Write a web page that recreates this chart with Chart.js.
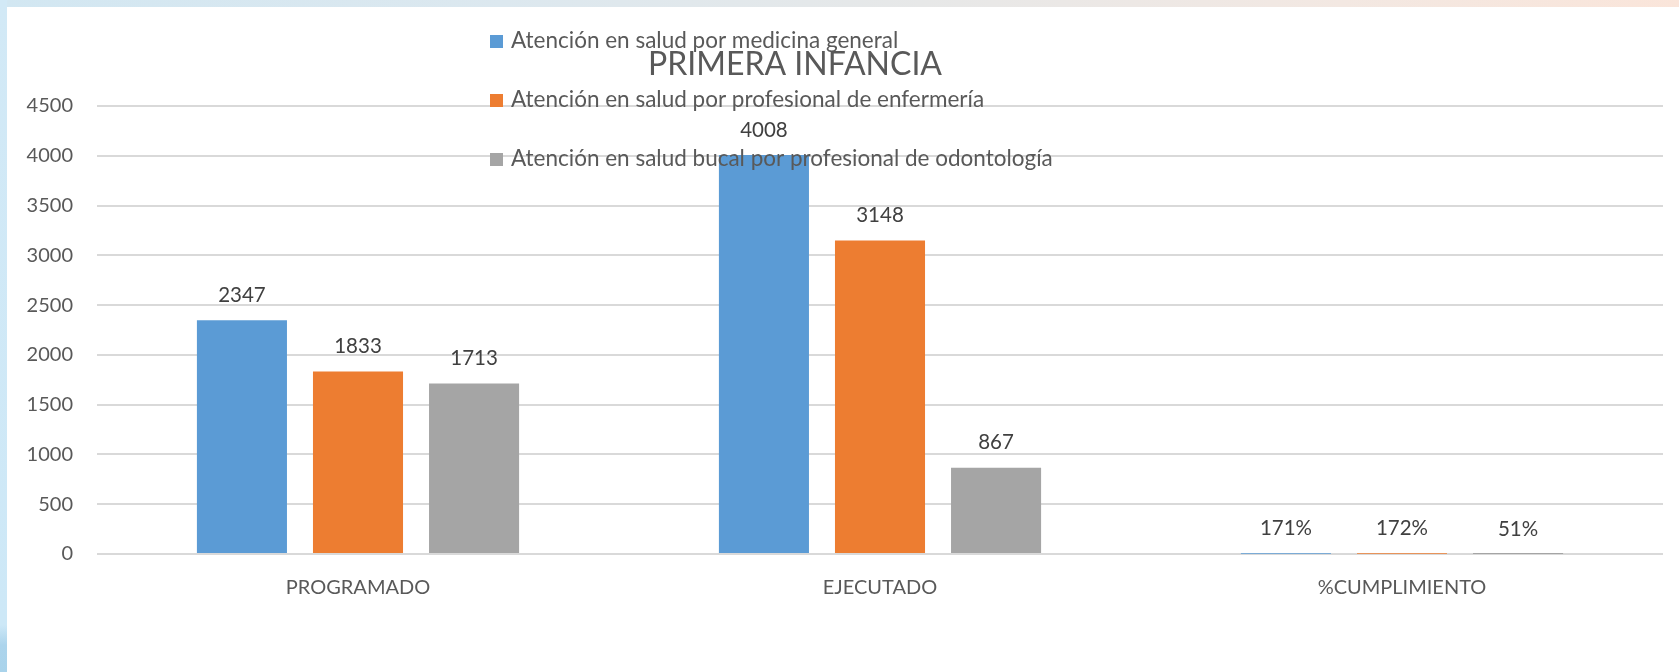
<!DOCTYPE html>
<html>
<head>
<meta charset="utf-8">
<title>PRIMERA INFANCIA</title>
<script src="https://cdn.jsdelivr.net/npm/chart.js@4.4.1/dist/chart.umd.min.js"></script>
<style>
  html, body { margin: 0; padding: 0; background: #fff; }
  body { width: 1679px; height: 672px; position: relative; overflow: hidden; font-family: Lato, sans-serif; }
  .band-top { position: absolute; left: 0; top: 0; width: 1679px; height: 7px;
    background: linear-gradient(to right, #d2e7f2 0%, #dce8ef 30%, #e7e8e8 55%, #f3e8e2 80%, #fae5da 100%); }
  .band-left { position: absolute; left: 0; top: 0; width: 7px; height: 672px;
    background: linear-gradient(to bottom, #d2e9f6 0%, #cde8f7 93%, #acd4ec 96%, #a9d3eb 100%); }
  #wrap { position: absolute; left: 0; top: 0; width: 1679px; height: 672px; }
</style>
</head>
<body>
<div class="band-top"></div>
<div class="band-left"></div>
<div id="wrap"><canvas id="chart"></canvas></div>

<script>
// data
const categories = ['PROGRAMADO', 'EJECUTADO', '%CUMPLIMIENTO'];
const seriesNames = [
  'Atención en salud por medicina general',
  'Atención en salud por profesional de enfermería',
  'Atención en salud bucal por profesional de odontología'
];
const medicinaGeneral = [2347, 4008, 1.71];
const enfermeria = [1833, 3148, 1.72];
const odontologia = [1713, 867, 0.51];
const seriesColors = ['#5b9bd5', '#ed7d31', '#a5a5a5'];
const yMax = 4500;
const yStep = 500;

const chartTitle = 'PRIMERA INFANCIA';
const FONT = 'Lato, "Open Sans", sans-serif';
const TEXT = '#595959';

// last category holds ratios, shown as percentages
function fmtValue(v, i) {
  return i === 2 ? Math.round(v * 100) + '%' : String(v);
}

const barLabels = {
  id: 'barLabels',
  afterDatasetsDraw(chart) {
    const ctx = chart.ctx;
    ctx.save();
    ctx.font = '20.5px ' + FONT;
    ctx.fillStyle = '#404040';
    ctx.textAlign = 'center';
    ctx.textBaseline = 'middle';
    chart.data.datasets.forEach((ds, d) => {
      chart.getDatasetMeta(d).data.forEach((bar, i) => {
        ctx.fillText(fmtValue(ds.data[i], i), bar.x, bar.y - 25);
      });
    });
    ctx.restore();
  }
};

// legend + title sit on top of the plot like in the original
const overlayLegend = {
  id: 'overlayLegend',
  afterDraw(chart) {
    const ctx = chart.ctx;
    ctx.save();
    ctx.textBaseline = 'middle';
    ctx.textAlign = 'left';
    ctx.font = '22.5px ' + FONT;
    const rows = [41, 100, 159];
    chart.data.datasets.forEach((ds, d) => {
      ctx.fillStyle = ds.backgroundColor;
      ctx.fillRect(490, rows[d] - 6, 13, 13);
      ctx.fillStyle = TEXT;
      ctx.fillText(ds.label, 511, rows[d]);
    });
    ctx.font = '32px ' + FONT;
    ctx.textAlign = 'center';
    ctx.fillText(chartTitle, 795, 65);
    ctx.restore();
  }
};

new Chart(document.getElementById('chart'), {
  type: 'bar',
  data: {
    labels: categories,
    datasets: [
      { label: seriesNames[0], data: medicinaGeneral, backgroundColor: seriesColors[0] },
      { label: seriesNames[1], data: enfermeria, backgroundColor: seriesColors[1] },
      { label: seriesNames[2], data: odontologia, backgroundColor: seriesColors[2] }
    ]
  },
  options: {
    responsive: true,
    maintainAspectRatio: false,
    animation: false,
    events: [],
    categoryPercentage: 0.667,
    barPercentage: 0.776,
    layout: { padding: { top: 106, right: 16, bottom: 58, left: 0 } },
    plugins: {
      legend: { display: false },
      title: { display: false },
      tooltip: { enabled: false }
    },
    scales: {
      x: {
        grid: { display: false, drawTicks: false },
        border: { display: false },
        ticks: { color: TEXT, font: { family: FONT, size: 20 }, padding: 22 },
        afterFit(s) { s.height = 60; }
      },
      y: {
        min: 0,
        max: yMax,
        grid: { color: '#d9d9d9', lineWidth: 2, drawTicks: false },
        border: { display: false },
        ticks: {
          stepSize: yStep, color: TEXT, font: { family: FONT, size: 20 }, padding: 24,
          callback: (v) => String(v)
        },
        afterFit(s) { s.width = 97; }
      }
    }
  },
  plugins: [barLabels, overlayLegend]
});
</script>
</body>
</html>
